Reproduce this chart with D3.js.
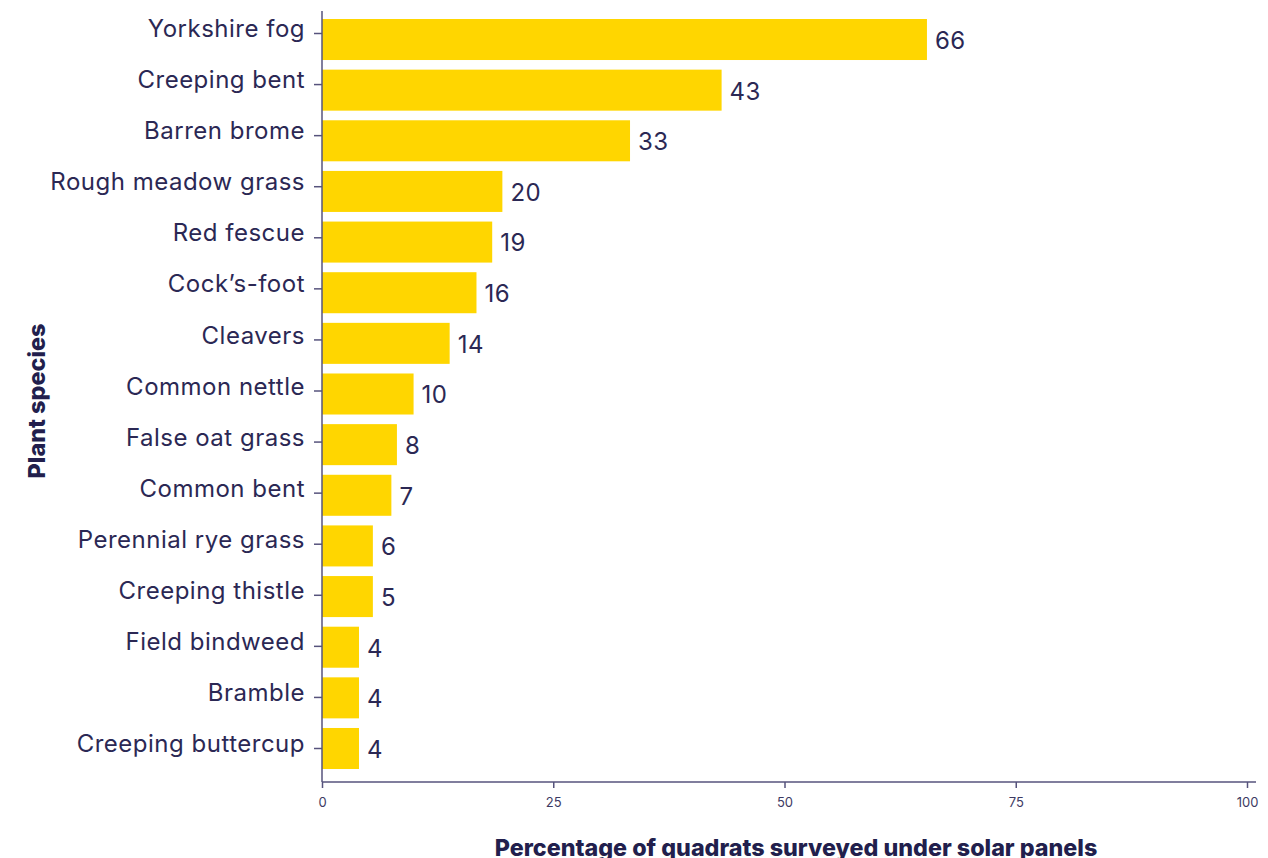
<!DOCTYPE html>
<html>
<head>
<meta charset="utf-8">
<script src="https://cdn.jsdelivr.net/npm/d3@7"></script>
<style>
  body { margin: 0; background: #fff; }
  svg text { font-family: Inter, "Noto Sans", sans-serif; }
</style>
</head>
<body>
<div id="chart"></div>
<script>
var svgWidth = 1268;
var svgHeight = 858;

var species = ['Yorkshire fog', 'Creeping bent', 'Barren brome', 'Rough meadow grass',
               'Red fescue', 'Cock\u2019s-foot', 'Cleavers', 'Common nettle', 'False oat grass',
               'Common bent', 'Perennial rye grass', 'Creeping thistle', 'Field bindweed',
               'Bramble', 'Creeping buttercup'];
var percent = [65.4, 43.2, 33.3, 19.5, 18.4, 16.7, 13.8, 9.9, 8.1, 7.5, 5.5, 5.5, 4.0, 4.0, 4.0];
var valueLabels = ['66', '43', '33', '20', '19', '16', '14', '10', '8', '7', '6', '5', '4', '4', '4'];
var xTicks = [0, 25, 50, 75, 100];

var textColor = '#2b2854';
var axisColor = '#56537c';
var barColor = '#ffd600';

var svg = d3.select('#chart')
    .append('svg')
    .attr('width', svgWidth)
    .attr('height', svgHeight);

var xScale = d3.scaleLinear()
    .domain([0, 100])
    .range([322, 1247]);

// bars and tick labels are spaced a touch differently in the original
var yBand = d3.scaleBand()
    .domain(species)
    .range([19, 769])
    .paddingInner(0.19)
    .paddingOuter(0);

var yTick = d3.scalePoint()
    .domain(species)
    .range([33, 748]);

svg.selectAll('rect.bar')
    .data(species)
    .enter()
    .append('rect')
    .attr('class', 'bar')
    .attr('x', xScale(0))
    .attr('y', d => yBand(d))
    .attr('width', (d, i) => xScale(percent[i]) - xScale(0))
    .attr('height', yBand.bandwidth())
    .attr('fill', barColor);

svg.selectAll('text.value')
    .data(species)
    .enter()
    .append('text')
    .attr('class', 'value')
    .attr('x', (d, i) => xScale(percent[i]) + 8)
    .attr('y', d => yBand(d) + yBand.bandwidth() / 2 + 1)
    .attr('dy', '0.35em')
    .attr('font-size', 24)
    .attr('letter-spacing', 0.5)
    .attr('fill', textColor)
    .text((d, i) => valueLabels[i]);

// y axis
var yAxis = svg.append('g')
    .attr('transform', `translate(${xScale(0)}, 0)`)
    .call(d3.axisLeft(yTick).tickSize(8).tickPadding(9));
yAxis.select('.domain').remove();
yAxis.selectAll('.tick line').attr('stroke', axisColor).attr('stroke-width', 1.5);
yAxis.selectAll('.tick text')
    .attr('font-size', 24)
    .attr('letter-spacing', 0.5)
    .attr('fill', textColor)
    .attr('dy', '0.15em');

svg.append('line')
    .attr('x1', xScale(0)).attr('x2', xScale(0))
    .attr('y1', 11).attr('y2', 782)
    .attr('stroke', axisColor)
    .attr('stroke-width', 1.5);

// x axis
var xAxis = svg.append('g')
    .attr('transform', 'translate(0, 782)')
    .call(d3.axisBottom(xScale).tickValues(xTicks).tickSize(6).tickPadding(10));
xAxis.select('.domain').remove();
xAxis.selectAll('.tick line').attr('stroke', axisColor).attr('stroke-width', 1.5);
xAxis.selectAll('.tick text')
    .attr('font-size', 13)
    .attr('fill', '#3d3a63');

svg.append('line')
    .attr('x1', xScale(0)).attr('x2', 1256)
    .attr('y1', 782).attr('y2', 782)
    .attr('stroke', axisColor)
    .attr('stroke-width', 1.5);

svg.append('text')
    .attr('x', 796)
    .attr('y', 856)
    .attr('text-anchor', 'middle')
    .attr('font-size', 23.3)
    .attr('font-weight', 800)
    .attr('fill', '#221f4d')
    .text('Percentage of quadrats surveyed under solar panels');

svg.append('text')
    .attr('transform', 'translate(45, 401) rotate(-90)')
    .attr('text-anchor', 'middle')
    .attr('font-size', 23.4)
    .attr('font-weight', 800)
    .attr('fill', '#221f4d')
    .text('Plant species');
</script>
</body>
</html>
